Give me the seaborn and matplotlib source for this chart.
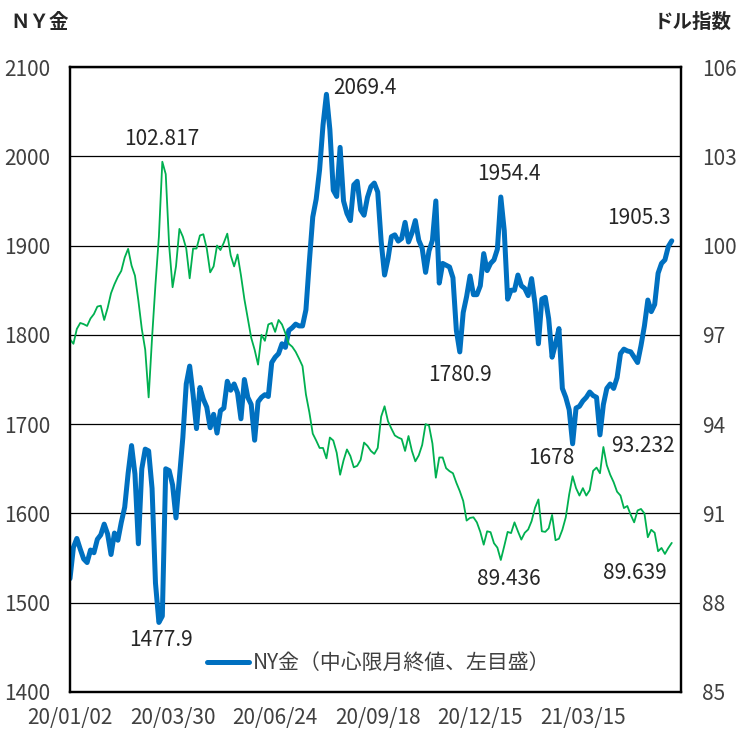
import matplotlib
matplotlib.use("Agg")
import matplotlib.pyplot as plt
import pandas as pd
import seaborn as sns

# NY金（中心限月終値）, 2営業日ごと
gold = [
    1527, 1562, 1572, 1560, 1549, 1545, 1559, 1556, 1571, 1576,
    1588, 1577, 1554, 1578, 1570, 1590, 1607, 1645, 1676, 1644,
    1566, 1650, 1672, 1670, 1628, 1522, 1477.9, 1485, 1650, 1648,
    1632, 1595, 1640, 1685, 1745, 1765, 1733, 1695, 1741, 1728,
    1719, 1696, 1711, 1690, 1715, 1718, 1748, 1738, 1745, 1735,
    1706, 1750, 1730, 1722, 1682, 1725, 1730, 1733, 1731, 1769,
    1775, 1779, 1790, 1786, 1805, 1808, 1812, 1810, 1810, 1828,
    1882, 1932, 1952, 1985, 2035, 2069.4, 2030, 1962, 1955, 2010,
    1950, 1936, 1928, 1968, 1972, 1940, 1934, 1954, 1966, 1970,
    1960, 1905, 1867, 1885, 1910, 1912, 1905, 1908, 1926, 1904,
    1914, 1928, 1906, 1897, 1870, 1894, 1906, 1950, 1858, 1880,
    1878, 1876, 1864, 1805, 1780.9, 1825, 1843, 1866, 1845, 1845,
    1855, 1891, 1872, 1880, 1884, 1896, 1954.4, 1917, 1840, 1850,
    1850, 1867, 1855, 1852, 1844, 1863, 1835, 1790, 1840, 1842,
    1818, 1775, 1790, 1807, 1740, 1730, 1716, 1678, 1718, 1720,
    1726, 1730, 1736, 1732, 1730, 1688, 1722, 1740, 1745, 1740,
    1752, 1779, 1784, 1782, 1781, 1775, 1769, 1788, 1810, 1839,
    1826, 1834, 1869, 1880, 1884, 1899, 1905.3,
]

# ドル指数
dollar = [
    96.85, 96.7, 97.2, 97.4, 97.36, 97.3, 97.55, 97.7, 97.95, 97.98,
    97.5, 97.9, 98.4, 98.7, 98.95, 99.15, 99.6, 99.89, 99.33, 98.99,
    98.15, 97.2, 96.5, 94.9, 96.9, 98.7, 100.3, 102.817, 102.4, 100.0,
    98.6, 99.3, 100.56, 100.3, 99.9, 98.9, 99.9, 99.9, 100.34, 100.38,
    99.9, 99.1, 99.3, 100.0, 99.85, 100.1, 100.4, 99.67, 99.3, 99.7,
    99.0, 98.2, 97.54, 96.9, 96.5, 96.0, 97.0, 96.8, 97.35, 97.4,
    97.1, 97.5, 97.35, 97.05, 96.7, 96.6, 96.43, 96.2, 95.95, 95.0,
    94.4, 93.68, 93.45, 93.2, 93.2, 92.85, 93.55, 93.45, 93.04, 92.3,
    92.78, 93.15, 92.93, 92.55, 92.6, 92.8, 93.38, 93.27, 93.1, 93.0,
    93.2, 94.25, 94.6, 94.1, 93.85, 93.62, 93.55, 93.5, 93.1, 93.6,
    93.1, 92.75, 92.95, 93.3, 94.0, 93.95, 93.35, 92.2, 92.88, 92.88,
    92.52, 92.42, 92.35, 92.03, 91.75, 91.42, 90.76, 90.85, 90.87, 90.7,
    90.38, 89.95, 90.4, 90.37, 90.0, 89.85, 89.436, 89.9, 90.38, 90.34,
    90.7, 90.4, 90.12, 90.35, 90.46, 90.74, 91.19, 91.47, 90.4, 90.38,
    90.5, 90.95, 90.1, 90.15, 90.45, 90.87, 91.64, 92.25, 91.85, 91.6,
    91.85, 91.6, 91.78, 92.43, 92.54, 92.35, 93.232, 92.62, 92.3, 92.05,
    91.73, 91.6, 91.18, 91.25, 90.95, 90.7, 91.1, 91.15, 91.0, 90.2,
    90.45, 90.35, 89.73, 89.84, 89.639, 89.84, 90.01,
]

tick_pos = [0, 30, 60, 90, 120, 150]
tick_labels = ["20/01/02", "20/03/30", "20/06/24", "20/09/18", "20/12/15", "21/03/15"]

# 注記: (インデックス, x方向ずれ, y方向ずれ) ピクセル
gold_notes = [(75, 38, 6), (26, 2, -18), (126, 8, 23), (114, 0, -23), (176, -33, 23), (147, -21, -14)]
dollar_notes = [(27, -1, 23), (156, 40, 1), (126, 8, -19), (174, -30, -19)]

BLUE = "#0070C0"
GREEN = "#00B050"
TXT = "#404040"

sns.set_style("white")
plt.rcParams["font.family"] = ["Noto Sans CJK JP", "DejaVu Sans"]

df = pd.DataFrame({"idx": range(len(gold)), "gold": gold, "dollar": dollar})

fig = plt.figure(figsize=(7.39, 7.39), dpi=100)
ax = fig.add_axes([70 / 739, 47 / 739, 611 / 739, 625 / 739])
sns.lineplot(data=df, x="idx", y="gold", ax=ax, color=BLUE, linewidth=3.6,
             label="NY金（中心限月終値、左目盛）")
ax2 = ax.twinx()
sns.lineplot(data=df, x="idx", y="dollar", ax=ax2, color=GREEN, linewidth=1.3, legend=False)

ax.set_xlim(0, 178.7)
ax.set_ylim(1400, 2100)
ax2.set_ylim(85, 106)
ax.set_yticks(range(1400, 2101, 100))
ax2.set_yticks(range(85, 107, 3))
ax.set_xticks(tick_pos)
ax.set_xticklabels(tick_labels)
for a in (ax, ax2):
    a.set_xlabel("")
    a.set_ylabel("")
    for s in a.spines.values():
        s.set_color("black")
        s.set_linewidth(1.6)
ax.yaxis.grid(True, color="black", linewidth=0.9)
ax.xaxis.grid(False)

ax.tick_params(axis="y", length=0, pad=14, labelsize=15, labelcolor=TXT)
ax.tick_params(axis="x", length=0, pad=11, labelsize=15, labelcolor=TXT)
ax2.tick_params(axis="y", length=0, pad=15, labelsize=15, labelcolor=TXT)

for i, dx, dy in gold_notes:
    ax.annotate(f"{gold[i]:g}", xy=(i, gold[i]), xytext=(dx, dy), textcoords="offset pixels",
                ha="center", va="center", fontsize=15, color="#262626")
for i, dx, dy in dollar_notes:
    ax2.annotate(f"{dollar[i]:g}", xy=(i, dollar[i]), xytext=(dx, dy), textcoords="offset pixels",
                 ha="center", va="center", fontsize=15, color="#262626")

ax.legend(loc="center", bbox_to_anchor=(0.506, 0.046), frameon=False, fontsize=15,
          handlelength=2.0, handletextpad=0.2, labelcolor=TXT)

fig.text(10 / 739, 1 - 22 / 739, "ＮＹ金", fontsize=14, fontweight="bold", ha="left", va="center")
fig.text(732 / 739, 1 - 22 / 739, "ドル指数", fontsize=14, fontweight="bold", ha="right", va="center")

fig.savefig("out.png", dpi=100)
